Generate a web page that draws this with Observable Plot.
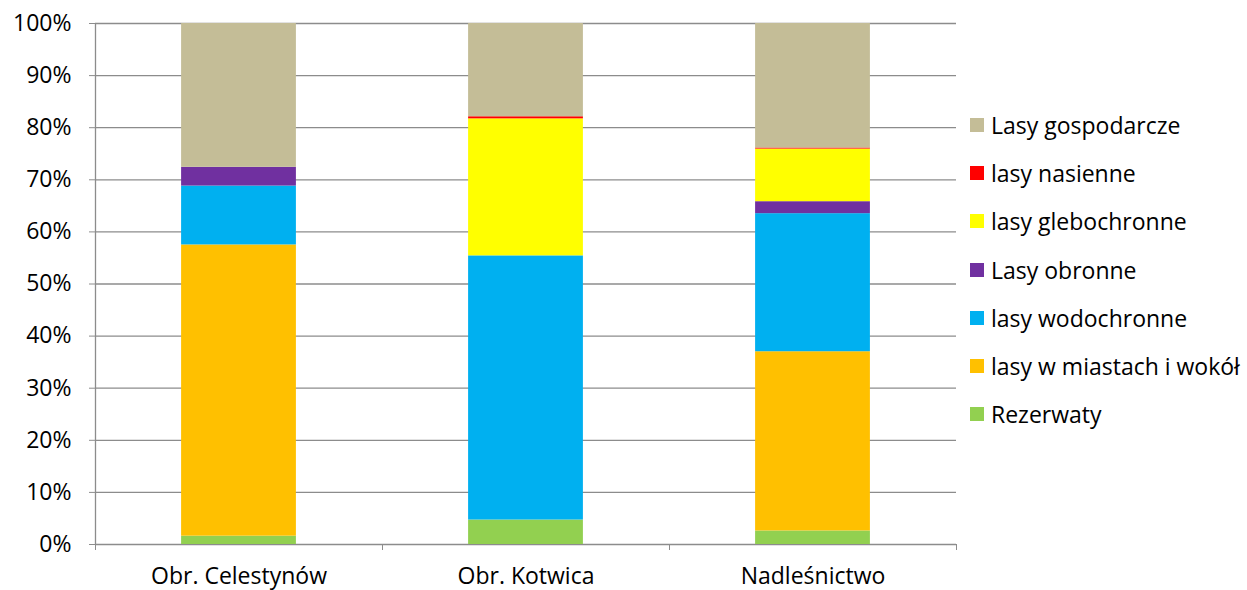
<!DOCTYPE html>
<html><head><meta charset="utf-8">
<script src="https://cdn.jsdelivr.net/npm/d3@7"></script>
<script src="https://cdn.jsdelivr.net/npm/@observablehq/plot@0.6"></script>
<style>
body{margin:0;background:#fff;font-family:"Open Sans",sans-serif;}
#wrap{position:relative;width:1247px;height:590px;}
#legend{position:absolute;left:970px;top:0;}
.li{position:absolute;left:0;display:flex;align-items:center;white-space:nowrap;font-size:23px;color:#000;height:26px;}
.sw{width:14px;height:14px;margin-right:7px;}
</style></head>
<body><div id="wrap"><div id="legend"></div></div>
<script>
const categories = ["Obr. Celestynów", "Obr. Kotwica", "Nadleśnictwo"];
// bottom-to-top stacking order
const series = ["Rezerwaty", "lasy w miastach i wokół", "lasy wodochronne", "Lasy obronne", "lasy glebochronne", "lasy nasienne", "Lasy gospodarcze"];
const colors = ["#92D050", "#FFC000", "#00B0F0", "#7030A0", "#FFFF00", "#FF0000", "#C4BD97"];
const celestynow = [1.6, 55.9, 11.3, 3.6, 0, 0, 27.6];
const kotwica = [4.7, 0, 50.7, 0, 26.3, 0.4, 17.9];
const nadlesnictwo = [2.6, 34.4, 26.5, 2.3, 10.1, 0.2, 23.9];
const yTicks = [0,10,20,30,40,50,60,70,80,90,100];

const valuesByCat = [celestynow, kotwica, nadlesnictwo];
const data = [];
valuesByCat.forEach((vals, ci) => vals.forEach((v, si) => data.push({ci, cat: categories[ci], series: series[si], value: v})));

const chart = Plot.plot({
  width: 1247, height: 590,
  marginLeft: 95, marginRight: 291, marginTop: 23, marginBottom: 46,
  style: {fontSize: "23px", fontFamily: "'Open Sans', sans-serif", color: "#000", background: "#fff"},
  x: {type: "linear", domain: [0, categories.length]},
  y: {domain: [0, 100]},
  color: {domain: series, range: colors},
  marks: [
    Plot.ruleY(yTicks, {stroke: "#8c8c8c", strokeWidth: 1.3}),
    Plot.ruleX([0], {stroke: "#8c8c8c", strokeWidth: 1.3}),
    Plot.rectY(data, Plot.stackY({x1: d => d.ci + 0.3, x2: d => d.ci + 0.7, y: "value", fill: "series", order: series})),
    Plot.axisY({ticks: yTicks, tickFormat: d => d + "%", tickSize: 6, tickPadding: 18, stroke: "#8c8c8c", label: null}),
    Plot.axisX({ticks: d3.range(categories.length + 1), tickFormat: () => "", tickSize: 6, stroke: "#8c8c8c", label: null}),
    Plot.axisX({ticks: categories.map((c, i) => i + 0.5), tickFormat: t => categories[Math.floor(t)], tickSize: 0, tickPadding: 23, label: null})
  ]
});
document.getElementById("wrap").prepend(chart);

const legendOrder = series.slice().reverse();
const leg = document.getElementById("legend");
legendOrder.forEach((s, i) => {
  const row = document.createElement("div");
  row.className = "li";
  row.style.top = (112 + i * 48.2) + "px";
  const sw = document.createElement("div");
  sw.className = "sw";
  sw.style.background = colors[series.indexOf(s)];
  const t = document.createElement("span");
  t.textContent = s;
  row.appendChild(sw); row.appendChild(t);
  leg.appendChild(row);
});
</script></body></html>
